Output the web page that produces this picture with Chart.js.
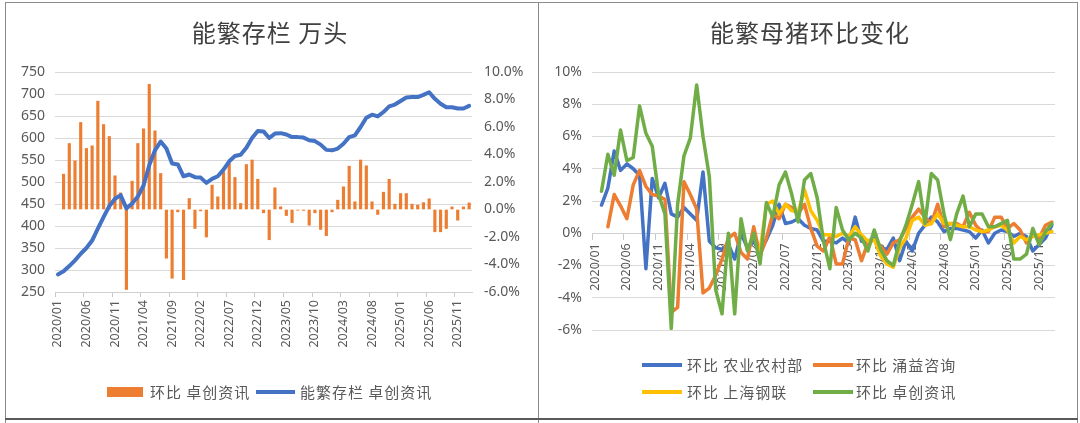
<!DOCTYPE html>
<html>
<head>
<meta charset="utf-8">
<script src="https://cdn.jsdelivr.net/npm/chart.js@4.4.1/dist/chart.umd.min.js"></script>
<style>
  html, body { margin: 0; padding: 0; background: #ffffff; }
  #page { position: relative; width: 1080px; height: 423px; overflow: hidden; background: #fff;
          font-family: "Noto Sans CJK SC", "Noto Sans", sans-serif; }
  .ln { position: absolute; background: #8c8c8c; }
  .title { position: absolute; top: 16px; width: 540px; text-align: center; font-size: 24px;
           letter-spacing: 1px; color: #404040; line-height: 32px; }
  .lg { position: absolute; font-size: 15px; letter-spacing: 1px; color: #595959; line-height: 20px; white-space: nowrap; }
  .key { position: absolute; }
  canvas { position: absolute; top: 0; }
</style>
</head>
<body>
<div id="page">
  <canvas id="c1" width="540" height="423" style="left:0px"></canvas>
  <canvas id="c2" width="540" height="423" style="left:540px"></canvas>

  <div class="ln" style="left:5px; top:2px; width:1073px; height:1px;"></div>
  <div class="ln" style="left:5px; top:2px; width:1px; height:421px;"></div>
  <div class="ln" style="left:538px; top:2px; width:1px; height:421px;"></div>
  <div class="ln" style="left:1077px; top:2px; width:1px; height:421px;"></div>
  <div class="ln" style="left:5px; top:418px; width:1073px; height:2px; background:#5a5a5a;"></div>

  <div class="title" style="left:0px;">能繁存栏 万头</div>
  <div class="title" style="left:540px;">能繁母猪环比变化</div>

  <div class="key" style="left:107px; top:387px; width:36px; height:10px; background:#ED7D31;"></div>
  <div class="lg" style="left:150px; top:382px;">环比 卓创资讯</div>
  <div class="key" style="left:256px; top:390px; width:39px; height:4px; background:#4472C4;"></div>
  <div class="lg" style="left:300px; top:382px;">能繁存栏 卓创资讯</div>

  <div class="key" style="left:642px; top:363px; width:40px; height:4px; background:#4472C4;"></div>
  <div class="lg" style="left:687px; top:355px;">环比 农业农村部</div>
  <div class="key" style="left:813px; top:363px; width:40px; height:4px; background:#ED7D31;"></div>
  <div class="lg" style="left:856px; top:355px;">环比 涌益咨询</div>
  <div class="key" style="left:642px; top:390px; width:40px; height:4px; background:#FFC000;"></div>
  <div class="lg" style="left:687px; top:382px;">环比 上海钢联</div>
  <div class="key" style="left:813px; top:390px; width:40px; height:4px; background:#70AD47;"></div>
  <div class="lg" style="left:856px; top:382px;">环比 卓创资讯</div>
</div>
<script>
const months = [
 "2020/01","2020/02","2020/03","2020/04","2020/05","2020/06","2020/07","2020/08","2020/09","2020/10","2020/11","2020/12",
 "2021/01","2021/02","2021/03","2021/04","2021/05","2021/06","2021/07","2021/08","2021/09","2021/10","2021/11","2021/12",
 "2022/01","2022/02","2022/03","2022/04","2022/05","2022/06","2022/07","2022/08","2022/09","2022/10","2022/11","2022/12",
 "2023/01","2023/02","2023/03","2023/04","2023/05","2023/06","2023/07","2023/08","2023/09","2023/10","2023/11","2023/12",
 "2024/01","2024/02","2024/03","2024/04","2024/05","2024/06","2024/07","2024/08","2024/09","2024/10","2024/11","2024/12",
 "2025/01","2025/02","2025/03","2025/04","2025/05","2025/06","2025/07","2025/08","2025/09","2025/10","2025/11","2025/12",
 "2026/01"
];

// 能繁存栏 卓创资讯 (万头)
const sowStock = [
 290,297,309,322,337,350,367,394,420,445,462,470,
 440,451,467,492,538,572,592,576,542,540,513,517,
 511,510,498,507,513,528,547,559,562,578,600,616,
 615,600,610,611,608,602,602,601,595,593,585,573,
 572,576,587,602,606,625,646,653,649,659,672,676,
 684,692,693,693,698,704,689,678,670,670,667,667,
 673
];

// 环比 卓创资讯 (%)
const sowMoM = [
 null,2.57,4.8,3.54,6.33,4.44,4.63,7.88,6.18,5.31,2.45,1.21,
 -5.82,2.06,4.8,5.87,9.1,5.72,2.62,-3.54,-5.0,-0.17,-5.1,0.8,
 -1.38,-0.1,-2.0,1.77,0.92,2.74,3.35,2.33,0.44,3.27,3.6,2.2,
 -0.24,-2.2,1.58,0.2,-0.44,-0.95,-0.05,-0.07,-1.14,-0.24,-1.45,-1.9,
 -0.17,0.68,1.65,3.15,0.56,3.6,3.18,0.56,-0.36,1.26,2.2,0.39,
 1.16,1.16,0.39,0.32,0.5,0.78,-1.62,-1.62,-1.38,0.19,-0.78,0.19,
 0.48
];

const leftTicks = [250, 750, 50];
const rightTicks = [-6, 10, 2];

// 右图: 能繁母猪环比 (%)
const momMoa = [
 null,1.75,2.8,5.1,3.9,4.3,4.0,3.6,-2.2,3.4,2.2,3.1,
 1.2,1.0,1.6,1.2,0.8,3.8,-0.5,-0.9,-1.0,-0.7,-1.6,0.0,
 -0.9,-0.5,-1.2,-0.4,0.5,1.8,0.6,0.7,0.9,0.5,0.3,0.2,
 -0.5,-0.5,-0.6,-0.3,-0.6,1.0,-0.5,-0.5,-0.3,-0.9,-1.0,-0.3,
 -1.7,-0.5,-1.1,0.0,0.5,1.0,0.7,0.1,0.3,0.3,0.2,0.1,
 -0.3,0.2,-0.6,0.0,0.2,0.1,-0.2,0.0,-0.2,-1.1,-0.7,-0.3,
 0.5
];
const momYongyi = [
 null,null,0.4,2.4,1.7,0.9,3.0,3.9,2.9,2.4,2.3,2.1,
 -4.9,-4.6,3.2,2.4,1.5,-3.7,-3.4,-2.6,-1.6,-0.3,0.0,-1.2,
 -1.6,0.4,-1.4,-0.3,1.2,0.9,1.8,1.6,1.2,1.8,0.3,-0.8,
 -1.1,-0.2,-1.9,-1.9,-0.3,-0.4,-1.7,-0.6,-0.4,-0.8,-1.3,-0.6,
 -0.4,0.3,1.0,1.5,1.0,0.6,1.8,0.4,0.6,0.6,0.4,1.3,
 0.5,0.1,0.1,1.0,1.0,0.3,0.6,0.2,-0.6,-0.1,-0.3,0.5,
 0.7
];
const momMysteel = [
 null,null,null,null,null,null,null,null,null,null,null,null,
 null,null,null,null,null,null,null,null,null,null,null,null,
 null,null,-1.1,1.8,2.0,1.2,1.8,1.4,1.3,2.7,1.4,0.8,
 -0.1,-0.1,-0.2,0.0,-0.2,0.4,-0.1,-0.5,-0.4,-1.4,-1.9,-2.1,
 -0.9,-0.3,0.8,1.0,0.5,0.6,1.2,0.6,0.6,0.5,0.4,0.4,
 0.2,0.1,0.2,0.4,0.5,0.2,-0.6,-0.2,-0.4,-0.2,-0.1,0.0,
 0.1
];
const momZhuochuang = [
 null,2.6,4.9,3.6,6.4,4.5,4.7,7.9,6.2,5.4,2.4,1.2,
 -5.9,1.8,4.8,5.9,9.2,6.0,3.5,-3.5,-5.0,0.0,-5.0,0.9,
 -1.1,0.0,-1.9,1.9,1.0,3.0,3.8,2.4,0.7,3.3,3.7,2.2,
 -0.5,-2.2,1.6,0.2,-0.4,0.0,-0.3,-1.1,0.2,-1.0,-1.7,-2.0,
 -0.5,0.5,1.8,3.2,0.6,3.7,3.3,1.2,-0.4,1.2,2.3,0.4,
 1.2,1.2,0.4,0.4,0.6,0.8,-1.6,-1.6,-1.3,0.3,-0.7,0.1,
 0.6
];

const TICK = '#595959';
const GRID = '#d9d9d9';
const FONT = '"Noto Sans", "Noto Sans CJK SC", sans-serif';

function xTickCb(v, i) { return i % 5 === 0 ? months[i] : ''; }
function everyFifth(ctx) { return (ctx.index % 5 === 0) ? '#c8c8c8' : 'rgba(0,0,0,0)'; }

new Chart(document.getElementById('c1'), {
  type: 'bar',
  data: {
    labels: months,
    datasets: [
      { type: 'line', label: '能繁存栏 卓创资讯', data: sowStock, yAxisID: 'y',
        borderColor: '#4472C4', backgroundColor: '#4472C4', borderWidth: 4,
        pointRadius: 0, tension: 0, order: 0, borderJoinStyle: 'round', borderCapStyle: 'round' },
      { type: 'bar', label: '环比 卓创资讯', data: sowMoM, yAxisID: 'y1',
        backgroundColor: '#ED7D31', barThickness: 2.5, order: 1 }
    ]
  },
  options: {
    responsive: false, animation: false, events: [],
    layout: { padding: { left: 5, right: 8, top: 72, bottom: 71 } },
    plugins: { legend: { display: false }, title: { display: false }, tooltip: { enabled: false } },
    scales: {
      x: {
        type: 'category', offset: true,
        grid: { offset: true, drawOnChartArea: false, drawTicks: true, tickLength: 5, color: everyFifth },
        border: { color: '#d0d0d0' },
        ticks: { autoSkip: false, minRotation: 90, maxRotation: 90, padding: 3,
                 color: TICK, font: { family: FONT, size: 12.5 }, callback: xTickCb },
        afterFit: s => { s.height = 60; }
      },
      y: {
        position: 'left', min: leftTicks[0], max: leftTicks[1],
        ticks: { stepSize: leftTicks[2], color: TICK, padding: 10, font: { family: FONT, size: 14 } },
        grid: { color: GRID, drawTicks: false },
        border: { display: false },
        afterFit: s => { s.width = 50; }
      },
      y1: {
        position: 'right', min: rightTicks[0], max: rightTicks[1],
        ticks: { stepSize: rightTicks[2], color: TICK, padding: 12, font: { family: FONT, size: 14 },
                 callback: v => v.toFixed(1) + '%' },
        grid: { drawOnChartArea: false, drawTicks: false },
        border: { display: false },
        afterFit: s => { s.width = 60; }
      }
    }
  }
});

function lineDs(label, data, color, order) {
  return { label, data, borderColor: color, backgroundColor: color, borderWidth: 3.5,
           pointRadius: 0, tension: 0, spanGaps: false, order,
           borderJoinStyle: 'round', borderCapStyle: 'round' };
}

new Chart(document.getElementById('c2'), {
  type: 'line',
  data: {
    labels: months,
    datasets: [
      lineDs('环比 农业农村部', momMoa, '#4472C4', 3),
      lineDs('环比 涌益咨询', momYongyi, '#ED7D31', 2),
      lineDs('环比 上海钢联', momMysteel, '#FFC000', 1),
      lineDs('环比 卓创资讯', momZhuochuang, '#70AD47', 0)
    ]
  },
  options: {
    responsive: false, animation: false, events: [],
    layout: { padding: { left: 5, right: 25, top: 72, bottom: 93 } },
    plugins: { legend: { display: false }, title: { display: false }, tooltip: { enabled: false } },
    scales: {
      x: {
        type: 'category', offset: true, position: { y: 0 },
        grid: { offset: true, drawOnChartArea: false, drawTicks: true, tickLength: 6, color: everyFifth },
        border: { color: '#d0d0d0' },
        ticks: { autoSkip: false, minRotation: 90, maxRotation: 90, padding: 4,
                 color: TICK, font: { family: FONT, size: 12.5 }, callback: xTickCb }
      },
      y: {
        position: 'left', min: -6, max: 10,
        ticks: { stepSize: 2, color: TICK, padding: 10, font: { family: FONT, size: 14 },
                 callback: v => v + '%' },
        grid: { color: GRID, drawTicks: false },
        border: { display: false },
        afterFit: s => { s.width = 47; }
      }
    }
  }
});
</script>
</body>
</html>
